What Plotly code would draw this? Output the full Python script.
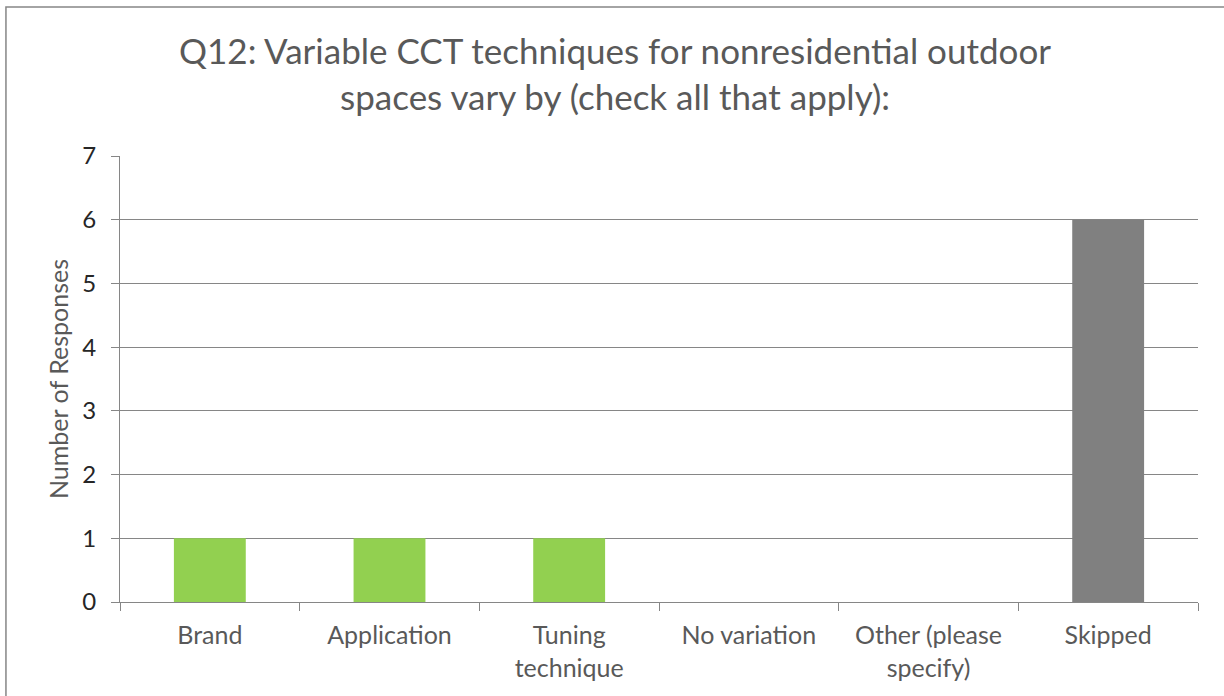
import plotly.graph_objects as go

categories = ["Brand", "Application", "Tuning<br>technique", "No variation", "Other (please<br>specify)", "Skipped"]
responses = [1, 1, 1, 0, 0, 6]
bar_colors = ["#92D050", "#92D050", "#92D050", "#92D050", "#92D050", "#808080"]
y_ticks = [0, 1, 2, 3, 4, 5, 6, 7]

FONT = "Lato, 'Open Sans', sans-serif"

fig = go.Figure(go.Bar(
    x=categories, y=responses, marker=dict(color=bar_colors, line=dict(width=0)),
    width=0.4,
))

fig.update_layout(
    width=1224, height=696,
    margin=dict(l=120, r=26, t=156, b=94),
    paper_bgcolor="white", plot_bgcolor="white",
    font=dict(family=FONT, color="#595959"),
    showlegend=False,
    title=dict(
        text="Q12: Variable CCT techniques for nonresidential outdoor<br>spaces vary by (check all that apply):",
        x=0.5025, xanchor="center", xref="container",
        y=1 - 64 / 696, yanchor="top", yref="container",
        font=dict(size=35, color="#595959", family=FONT),
    ),
    xaxis=dict(
        showline=True, linecolor="#868686", linewidth=1,
        ticks="outside", tickson="boundaries", ticklen=8, tickcolor="#868686",
        tickfont=dict(size=25, color="#595959"),
        ticklabelstandoff=11,
        showgrid=False,
    ),
    yaxis=dict(
        range=[0, 7], tickvals=y_ticks,
        showline=True, linecolor="#868686", linewidth=1,
        ticks="outside", ticklen=8, tickcolor="#868686",
        showgrid=True, gridcolor="#868686", gridwidth=1,
        zeroline=False,
        tickfont=dict(size=24, color="#262626"),
        ticklabelstandoff=10,
        title=dict(text="Number of Responses", font=dict(size=25, color="#595959"), standoff=6),
    ),
    shapes=[dict(
        type="rect", xref="paper", yref="paper",
        x0=-0.1058, x1=1.05, y0=-0.25, y1=1.334,
        line=dict(color="#868686", width=1.5), fillcolor="rgba(0,0,0,0)", layer="below",
    )],
)

fig.write_html(
    "out.html",
    config={"displayModeBar": False},
    post_script="document.body.style.margin='0';document.body.style.overflow='hidden';",
)
